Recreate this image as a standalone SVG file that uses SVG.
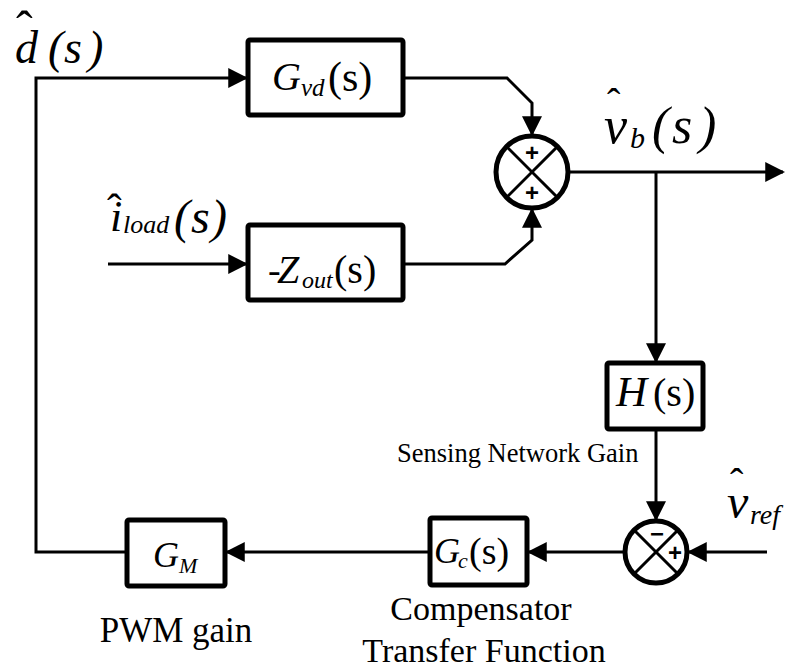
<svg xmlns="http://www.w3.org/2000/svg" width="794" height="668" viewBox="0 0 794 668">
<defs>
<marker id="arr" markerUnits="userSpaceOnUse" markerWidth="20" markerHeight="20" viewBox="0 0 18 18" refX="16" refY="9" orient="auto">
<path d="M0,0 L18,9 L0,18 z" fill="#000"/>
</marker>
<style>
.box{fill:#fff;stroke:#000;stroke-width:5;stroke-linejoin:round}
.sum{fill:#fff;stroke:#000;stroke-width:5}
.x{stroke:#000;stroke-width:3}
.ln{fill:none;stroke:#000;stroke-width:3;marker-end:url(#arr)}
.i{font-style:italic}
.sg{font-family:"Liberation Sans", sans-serif;font-size:24px;font-weight:bold;text-anchor:middle}
.lbl{text-anchor:middle}
</style>
</defs>
<rect width="794" height="668" fill="#fff"/>
<g id="connectors">
<path class="ln" d="M127,552 H36 V78 H246"/>
<path class="ln" d="M403,78 H507 L532,103 V134"/>
<path class="ln" d="M108,264 H246"/>
<path class="ln" d="M403,264 H505 L532,240 V210"/>
<path class="ln" d="M568,172 H783"/>
<path class="ln" d="M656,172 V361"/>
<path class="ln" d="M656,429 V519"/>
<path class="ln" d="M767,552 H689"/>
<path class="ln" d="M625,552 H529"/>
<path class="ln" d="M430,552 H227"/>
</g>
<g font-family="Liberation Serif, DejaVu Serif, serif" fill="#000">
<g id="d_in">
<text class="i" font-size="46" y="63"><tspan x="15">d</tspan><tspan x="48">(</tspan><tspan x="64">s</tspan><tspan x="88">)</tspan></text>
<text font-size="50" x="16" y="46">ˆ</text>
</g>
<g id="Gvd">
<rect class="box" x="248" y="40" width="155" height="75" rx="2"/>
<text y="90"><tspan class="i" font-size="40" x="272">G</tspan><tspan class="i" font-size="25" x="301" y="96">vd</tspan><tspan font-size="42" x="328" y="91">(s)</tspan></text>
</g>
<g id="iload">
<text class="i" y="231"><tspan font-size="44" x="110">i</tspan><tspan font-size="26" x="123" y="233">load</tspan><tspan font-size="48" x="174" y="233">(</tspan><tspan font-size="48" x="191" y="233">s</tspan><tspan font-size="48" x="211" y="233">)</tspan></text>
<text font-size="44" x="107" y="224">ˆ</text>
</g>
<g id="Zout">
<rect class="box" x="248" y="225" width="155" height="75" rx="2"/>
<text y="283"><tspan font-size="38" x="268">-</tspan><tspan class="i" font-size="40" x="277">Z</tspan><tspan class="i" font-size="24" x="302" y="288">out</tspan><tspan font-size="40" x="334" y="283">(s)</tspan></text>
</g>
<g id="sum1">
<circle class="sum" cx="532" cy="172" r="36"/>
<line class="x" x1="506.5" y1="146.5" x2="557.5" y2="197.5"/>
<line class="x" x1="557.5" y1="146.5" x2="506.5" y2="197.5"/>
<text class="sg" x="532" y="161">+</text>
<text class="sg" x="532" y="201">+</text>
</g>
<g id="vb">
<text class="i" y="143"><tspan font-size="52" x="604">v</tspan><tspan font-size="30" x="630" y="148">b</tspan><tspan font-size="52" x="652" y="143">(</tspan><tspan font-size="52" x="672">s</tspan><tspan font-size="52" x="699">)</tspan></text>
<text font-size="40" x="607" y="116">ˆ</text>
</g>
<g id="H">
<rect class="box" x="607" y="363" width="96" height="66" rx="2"/>
<text y="406"><tspan class="i" font-size="43" x="616">H</tspan><tspan font-size="40" x="653">(s)</tspan></text>
<text font-size="26.5" x="397" y="462">Sensing Network Gain</text>
</g>
<g id="sum2">
<circle class="sum" cx="656" cy="552" r="31"/>
<line class="x" x1="634" y1="530" x2="678" y2="574"/>
<line class="x" x1="678" y1="530" x2="634" y2="574"/>
<text class="sg" x="657" y="542">−</text>
<text class="sg" x="675" y="561">+</text>
</g>
<g id="vref">
<text class="i" y="518"><tspan font-size="48" x="727">v</tspan><tspan font-size="28" x="750" y="524">ref</tspan></text>
<text font-size="40" x="730" y="496">ˆ</text>
</g>
<g id="Gc">
<rect class="box" x="430" y="518" width="97" height="67" rx="2"/>
<text y="563"><tspan class="i" font-size="36" x="434">G</tspan><tspan class="i" font-size="22" x="458" y="568">c</tspan><tspan font-size="38" x="469" y="564">(s)</tspan></text>
<text class="lbl" font-size="34" x="481" y="620">Compensator</text>
<text class="lbl" font-size="34" x="484" y="662">Transfer Function</text>
</g>
<g id="GM">
<rect class="box" x="127" y="520" width="98" height="66" rx="2"/>
<text y="567"><tspan class="i" font-size="36" x="153">G</tspan><tspan class="i" font-size="22" x="179" y="573">M</tspan></text>
<text class="lbl" font-size="35" x="176" y="642">PWM gain</text>
</g>
</g>
</svg>
